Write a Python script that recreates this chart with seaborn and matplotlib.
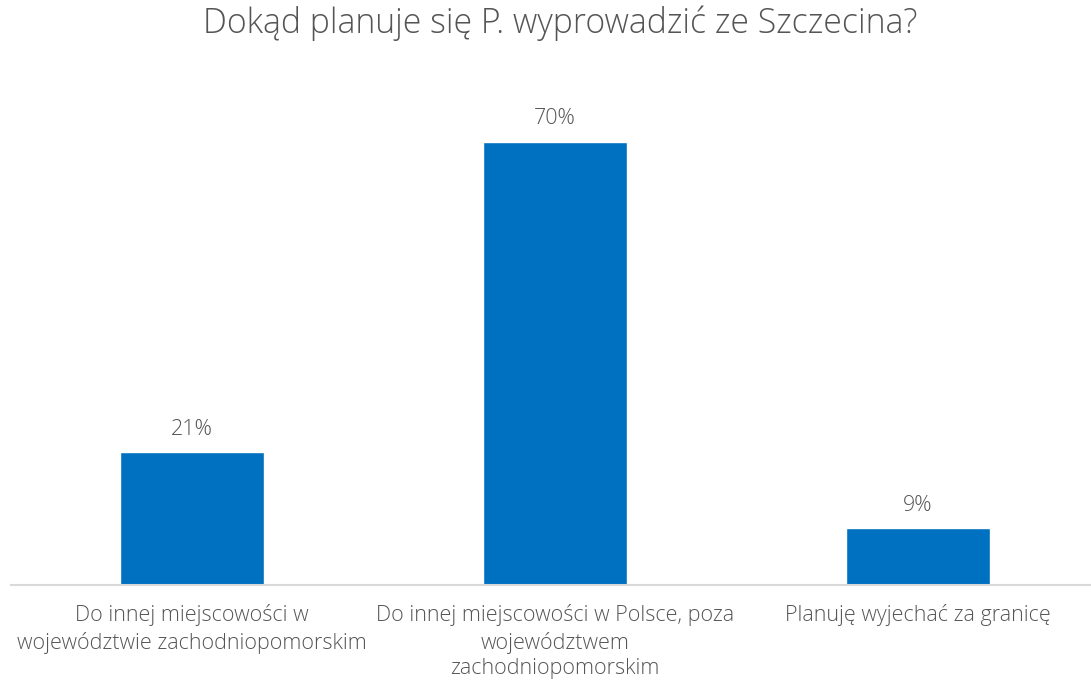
import matplotlib
matplotlib.use('Agg')
import matplotlib.pyplot as plt
import seaborn as sns
import pandas as pd

# Data
categories = [
    'Do innej miejscowości w\nwojewództwie zachodniopomorskim',
    'Do innej miejscowości w Polsce, poza\nwojewództwem\nzachodniopomorskim',
    'Planuję wyjechać za granicę',
]
values = [21, 70, 9]
value_labels = ['21%', '70%', '9%']

df = pd.DataFrame({'category': categories, 'value': values})

sns.set_style('white')
plt.rcParams['font.family'] = ['Open Sans', 'DejaVu Sans']

text_color = '#555555'

fig = plt.figure(figsize=(10.91, 6.88), dpi=100)
ax = fig.add_axes([10.5 / 1091, 103 / 688, 1089 / 1091, 485 / 688])

sns.barplot(data=df, x='category', y='value', color='#0070C0', width=0.397,
            saturation=1, ax=ax)

ax.set_ylim(0, 76.6)
ax.set_xlim(-0.5, 2.5)

# value labels above bars
for i, (v, lab) in enumerate(zip(values, value_labels)):
    ax.annotate(lab, (i, v), xytext=(0, 9), textcoords='offset points',
                ha='center', va='bottom', fontsize=15.5, color=text_color,
                fontweight='light')

ax.set_yticks([])
ax.set_xlabel('')
ax.set_ylabel('')
ax.tick_params(axis='x', length=0, pad=14, labelsize=15.5, labelcolor=text_color)
for t in ax.get_xticklabels():
    t.set_linespacing(1.3)
    t.set_fontweight('light')

sns.despine(ax=ax, left=True)
ax.spines['bottom'].set_color('#D9D9D9')
ax.spines['bottom'].set_linewidth(1.5)

fig.text(560 / 1091, 1 - 23 / 688, 'Dokąd planuje się P. wyprowadzić ze Szczecina?',
         ha='center', va='center', fontsize=24.3, color=text_color,
         fontweight='light')

fig.savefig('out.png', dpi=100)
